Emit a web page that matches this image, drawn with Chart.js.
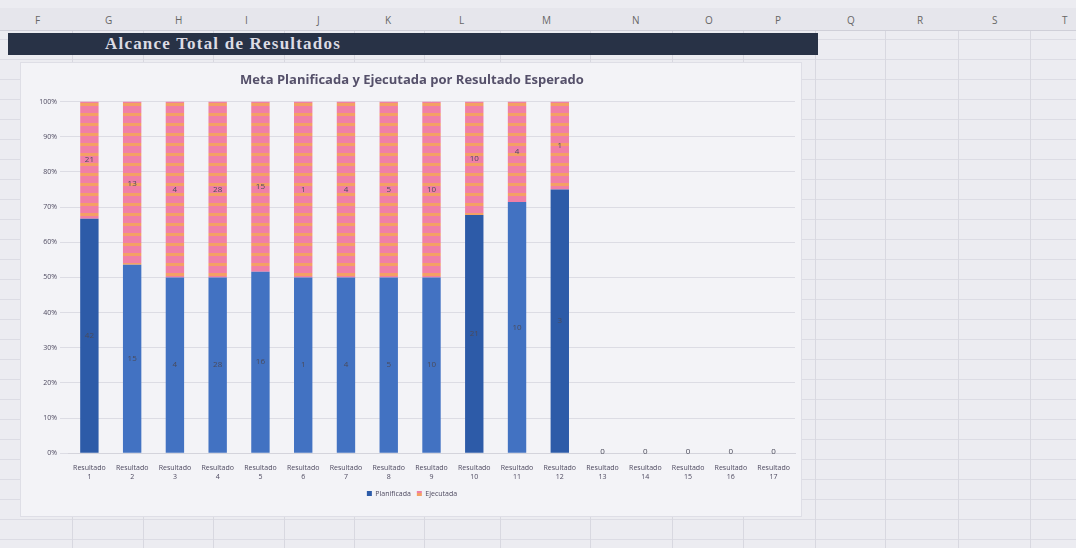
<!DOCTYPE html>
<html>
<head>
<meta charset="utf-8">
<script src="https://cdn.jsdelivr.net/npm/chart.js@4/dist/chart.umd.min.js"></script>
<style>
  html, body { margin: 0; padding: 0; }
  body {
    width: 1076px; height: 548px; overflow: hidden; position: relative;
    background-color: #ececf1;
    background-image: repeating-linear-gradient(to bottom, transparent 0 19px, #dcdce4 19px 20px);
  }
  .colhead {
    position: absolute; left: 0; top: 8px; width: 1076px; height: 22px;
    background: #e6e6ec; border-bottom: 1px solid #cfcfd8;
    font-family: "Open Sans", sans-serif; font-size: 10px; color: #666;
  }
  .colhead span { position: absolute; top: 5px; }
  .vline { position: absolute; top: 8px; width: 1px; height: 540px; background: #d8d8e0; }
  .banner {
    position: absolute; left: 8px; top: 33px; width: 810px; height: 22px;
    background: #283246;
    font-family: "Liberation Serif", "DejaVu Serif", serif; font-weight: bold;
    font-size: 17px; color: #dcdce4; line-height: 22px;
  }
  .banner span { position: absolute; left: 97px; letter-spacing: 1.2px; }
  .box {
    position: absolute; left: 20px; top: 62px; width: 780px; height: 453px;
    background: #f3f3f7; border: 1px solid #dedee6;
  }
</style>
</head>
<body>
<div class="colhead" id="colhead"></div>
<div class="banner"><span>Alcance Total de Resultados</span></div>
<div class="box"><canvas id="grafico" width="780" height="453"></canvas></div>
<script>
// columnas de la hoja (solo decoración)
const columnas = ["F","G","H","I","J","K","L","M","N","O","P","Q","R","S","T"];
const columnasX = [38,108,178,248,320,388,462,545,635,708,778,850,920,995,1065];
const lineasX = [72,143,213,284,354,424,500,590,672,743,815,885,958,1030];

const categorias = ["Resultado 1","Resultado 2","Resultado 3","Resultado 4","Resultado 5","Resultado 6",
  "Resultado 7","Resultado 8","Resultado 9","Resultado 10","Resultado 11","Resultado 12",
  "Resultado 13","Resultado 14","Resultado 15","Resultado 16","Resultado 17"];
const planificada = [42, 15, 4, 28, 16, 1, 4, 5, 10, 21, 10, 3, 0, 0, 0, 0, 0];
const ejecutada   = [21, 13, 4, 28, 15, 1, 4, 5, 10, 10, 4, 1, 0, 0, 0, 0, 0];
const ticksY = [0, 10, 20, 30, 40, 50, 60, 70, 80, 90, 100];

const head = document.getElementById("colhead");
columnas.forEach((c, i) => {
  const s = document.createElement("span");
  s.textContent = c;
  s.style.left = (columnasX[i] - 3) + "px";
  head.appendChild(s);
});
lineasX.forEach(x => {
  const d = document.createElement("div");
  d.className = "vline";
  d.style.left = x + "px";
  document.body.insertBefore(d, head);
});

// porcentaje de cada serie sobre el total de la categoría
const total = planificada.map((p, i) => p + ejecutada[i]);
const pctPlan = planificada.map((p, i) => total[i] ? p / total[i] * 100 : 0);
const pctEjec = ejecutada.map((e, i) => total[i] ? e / total[i] * 100 : 0);

// relleno rayado rosa / naranja para "Ejecutada"
function rayado() {
  const c = document.createElement("canvas");
  c.width = 8; c.height = 10;
  const g = c.getContext("2d");
  g.fillStyle = "#f07fa6";
  g.fillRect(0, 0, 8, 10);
  g.fillStyle = "#f4a064";
  g.fillRect(0, 0, 8, 3);
  return g.createPattern(c, "repeat");
}
const patron = rayado();
const oscuras = [0, 9, 11];

const etiquetas = {
  id: "etiquetas",
  afterDatasetsDraw(chart) {
    const ctx = chart.ctx;
    ctx.save();
    ctx.font = "8px 'Open Sans'";
    ctx.fillStyle = "#4a4a5a";
    ctx.textAlign = "center";
    ctx.textBaseline = "middle";
    const crudos = [planificada, ejecutada];
    chart.data.datasets.forEach((ds, d) => {
      chart.getDatasetMeta(d).data.forEach((bar, i) => {
        const v = crudos[d][i];
        if (total[i] === 0) {
          if (d === 0) ctx.fillText("0", bar.x, bar.base - 1);
          return;
        }
        ctx.fillText(String(v), bar.x, (bar.y + bar.base) / 2);
      });
    });
    ctx.restore();
  }
};

new Chart(document.getElementById("grafico"), {
  type: "bar",
  data: {
    labels: categorias.map(c => c.split(" ")),
    datasets: [
      {
        label: "Planificada",
        data: pctPlan,
        backgroundColor: ctx => oscuras.includes(ctx.dataIndex) ? "#2d5ba8" : "#4272c2",
        categoryPercentage: 1,
        barPercentage: 0.43
      },
      {
        label: "Ejecutada",
        data: pctEjec,
        backgroundColor: patron,
        categoryPercentage: 1,
        barPercentage: 0.43
      }
    ]
  },
  options: {
    responsive: false,
    animation: false,
    layout: { padding: { top: 7, left: 8, right: 6, bottom: 9 } },
    scales: {
      x: {
        stacked: true,
        grid: { display: false },
        border: { color: "#d4d4dc" },
        ticks: { font: { family: "Open Sans", size: 7 }, color: "#4e4a60", maxRotation: 0, autoSkip: false, padding: 3 }
      },
      y: {
        stacked: true,
        min: 0, max: 100,
        afterFit: s => { s.width = 39; },
        afterBuildTicks: s => { s.ticks = ticksY.map(v => ({ value: v })); },
        grid: { color: "#dcdce4" },
        border: { display: false },
        ticks: { font: { family: "Open Sans", size: 7 }, color: "#4e4a60", callback: v => v + "%" }
      }
    },
    plugins: {
      title: {
        display: true,
        text: "Meta Planificada y Ejecutada por Resultado Esperado",
        font: { family: "Open Sans", size: 13, weight: "bold" },
        color: "#55506a",
        padding: { top: 2, bottom: 14 }
      },
      legend: {
        position: "bottom",
        labels: { font: { family: "Open Sans", size: 7 }, color: "#4e4a60", boxWidth: 5, boxHeight: 5, padding: 6 }
      },
      tooltip: { enabled: false }
    }
  },
  plugins: [etiquetas]
});
</script>
</body>
</html>
